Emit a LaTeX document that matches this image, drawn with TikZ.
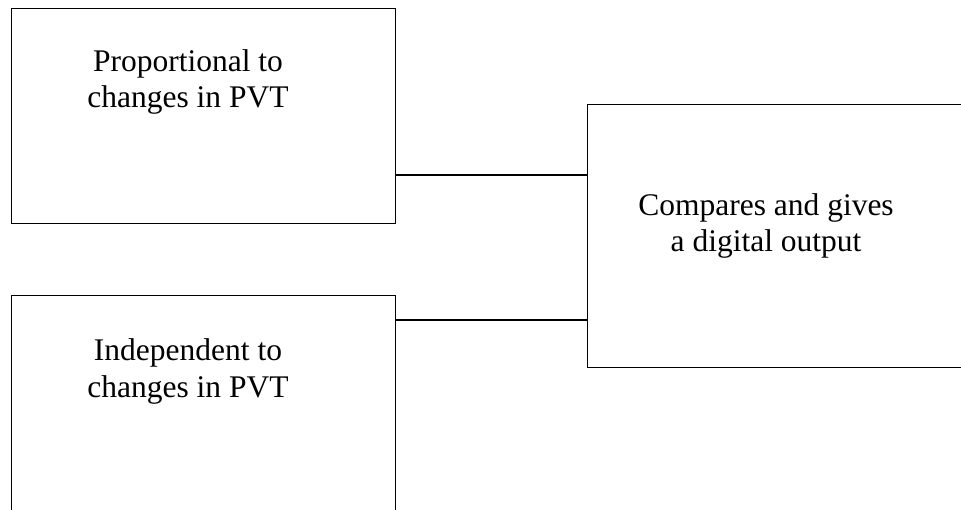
\documentclass[tikz,border=0pt]{standalone}
\usepackage{fontspec}
\setmainfont{Liberation Serif}
\begin{document}
\begin{tikzpicture}[x=1pt,y=-1pt,
  blk/.style={draw, line width=1.4pt, rectangle, inner sep=0pt, anchor=north west},
  lbl/.style={align=center, inner sep=0pt, anchor=base, font=\fontsize{31.5}{36}\selectfont},
  link/.style={line width=1.4pt}]
\useasboundingbox (0,0) rectangle (961,510);
\clip (0,0) rectangle (961,510);
% blocks (the right and lower ones run past the page edge)
\node[blk, minimum width=384pt, minimum height=215pt] (prop) at (11,8) {};
\node[blk, minimum width=384pt, minimum height=270pt] (ind) at (11,295) {};
\node[blk, minimum width=430pt, minimum height=263pt] (cmp) at (587,104) {};
% labels (placed by the baseline of their last line)
\node[lbl] (proptxt) at (188,108) {Proportional to\\changes in PVT};
\node[lbl] (indtxt) at (188,397) {Independent to\\changes in PVT};
\node[lbl] (cmptxt) at (766,252) {Compares and gives\\a digital output};
% connectors
\coordinate (j1) at (0,175);
\coordinate (j2) at (0,320);
\draw[link] (prop.east |- j1) -- (cmp.west |- j1);
\draw[link] (ind.east |- j2) -- (cmp.west |- j2);
\end{tikzpicture}
\end{document}
